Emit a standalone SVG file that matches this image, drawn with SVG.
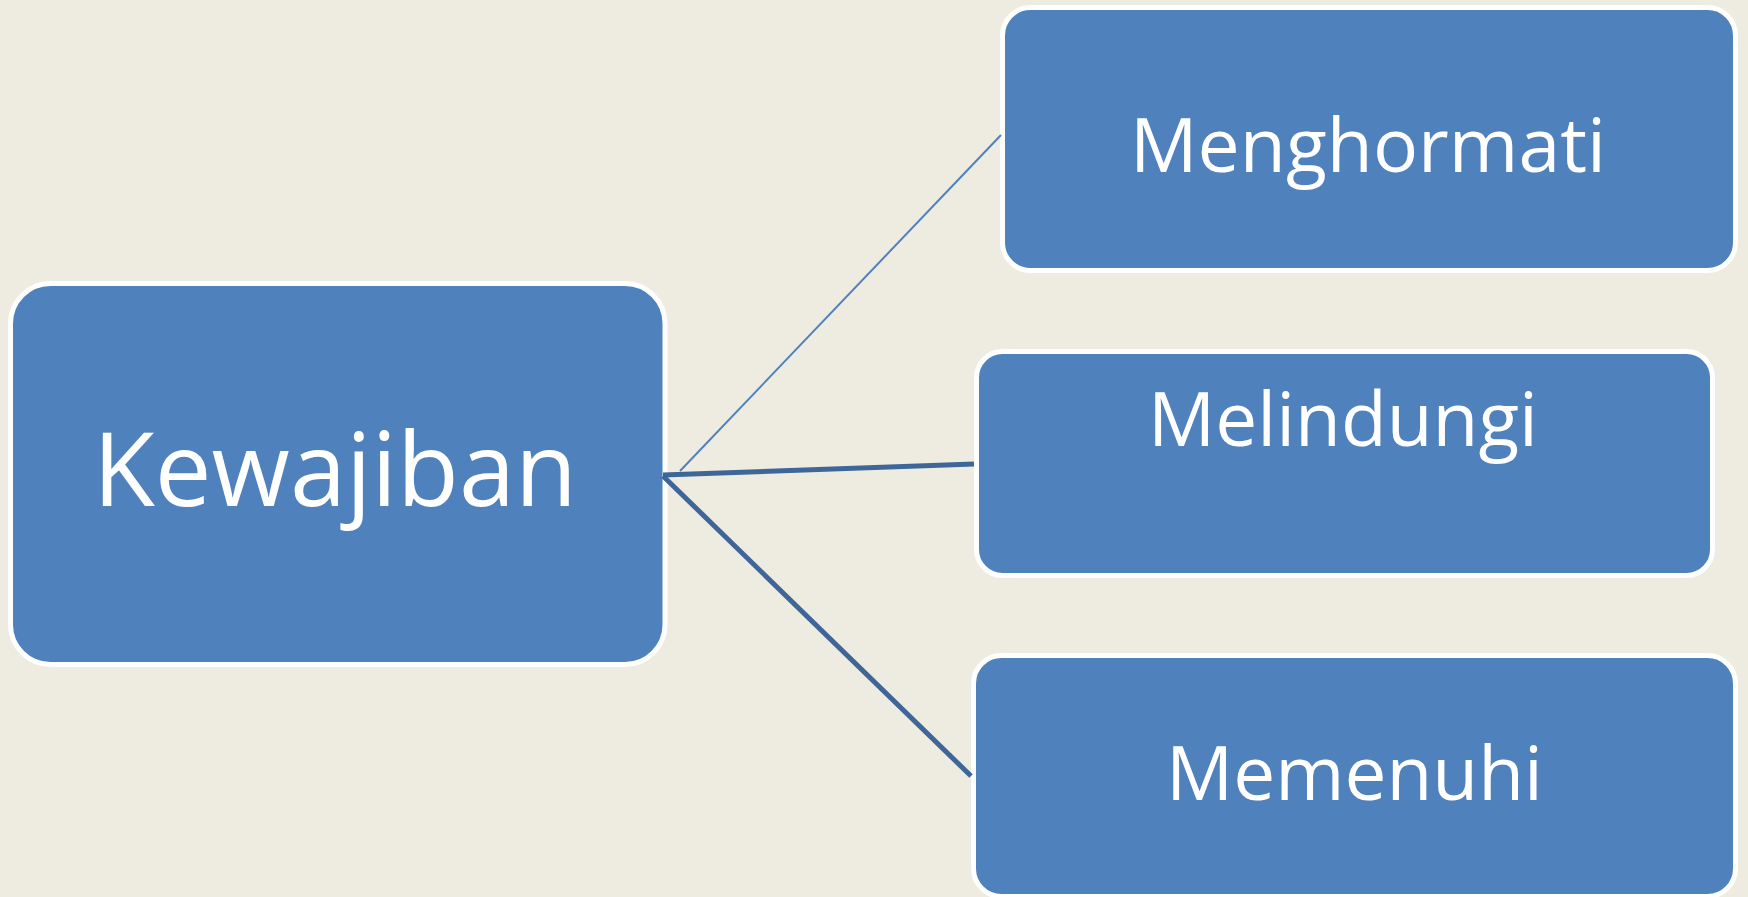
<svg xmlns="http://www.w3.org/2000/svg" width="1748" height="897" viewBox="0 0 1748 897">
<style>
.box{fill:#4F81BD;stroke:#FFFFFF;stroke-width:5}
.lbl{fill:#FFFFFF;font-family:"Open Sans","Noto Sans",sans-serif}
.thin{stroke:#4F81BD;stroke-width:2;fill:none}
.thick{stroke:#3F6699;stroke-width:5;fill:none;stroke-linecap:butt}
</style>
<rect width="1748" height="897" fill="#EEECE1"/>
<g id="kewajiban">
<rect class="box" x="10.5" y="283.5" width="654.5" height="381" rx="40"/>
<text class="lbl" x="93" y="506" font-size="103" textLength="484" lengthAdjust="spacingAndGlyphs">Kewajiban</text>
</g>
<g id="menghormati">
<rect class="box" x="1002.5" y="7.5" width="733" height="263" rx="28"/>
<text class="lbl" x="1130" y="172" font-size="75" textLength="476" lengthAdjust="spacingAndGlyphs">Menghormati</text>
</g>
<g id="melindungi">
<rect class="box" x="976.5" y="351.5" width="736" height="224" rx="26"/>
<text class="lbl" x="1148" y="446" font-size="75" textLength="390" lengthAdjust="spacingAndGlyphs">Melindungi</text>
</g>
<g id="memenuhi">
<rect class="box" x="973.5" y="655.5" width="762" height="241" rx="28"/>
<text class="lbl" x="1166" y="800" font-size="75" textLength="377" lengthAdjust="spacingAndGlyphs">Memenuhi</text>
</g>
<g id="connectors">
<line class="thin" x1="680" y1="471" x2="1001" y2="135"/>
<line class="thick" x1="663" y1="475" x2="974" y2="464"/>
<line class="thick" x1="663" y1="476" x2="971" y2="776"/>
</g>
</svg>
